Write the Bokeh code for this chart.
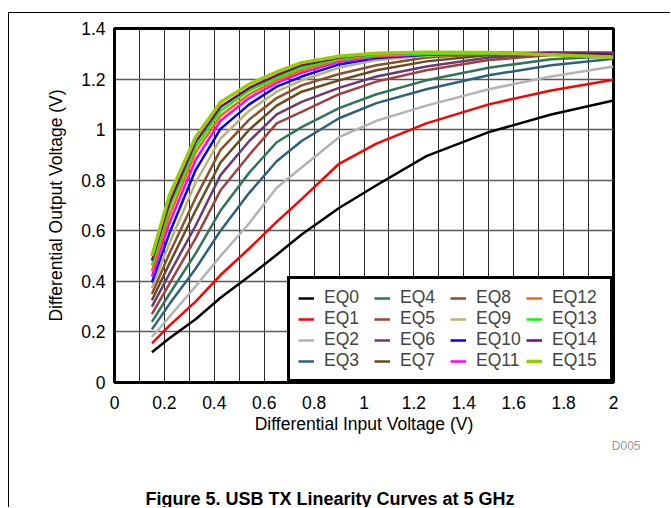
from bokeh.plotting import figure
from bokeh.models import (Range1d, FixedTicker, CustomJSTickFormatter,
                          Legend, LegendItem, Title)
from bokeh.embed import file_html
from bokeh.resources import INLINE

# ---- data ----
x_in = [0.15, 0.22, 0.325, 0.425, 0.54, 0.65, 0.75, 0.9, 1.05, 1.25, 1.5, 1.75, 2.0]

eq0 = [0.12, 0.175, 0.25, 0.335, 0.42, 0.505, 0.585, 0.69, 0.78, 0.895, 0.99, 1.06, 1.115]
eq1 = [0.155, 0.225, 0.32, 0.425, 0.53, 0.635, 0.725, 0.865, 0.945, 1.025, 1.10, 1.155, 1.197]
eq2 = [0.18, 0.26, 0.38, 0.50, 0.63, 0.77, 0.85, 0.97, 1.035, 1.095, 1.16, 1.21, 1.25]
eq3 = [0.21, 0.31, 0.45, 0.60, 0.75, 0.875, 0.955, 1.045, 1.105, 1.16, 1.215, 1.255, 1.28]
eq4 = [0.24, 0.35, 0.51, 0.68, 0.83, 0.95, 1.01, 1.085, 1.14, 1.195, 1.245, 1.278, 1.29]
eq5 = [0.27, 0.39, 0.57, 0.76, 0.90, 1.025, 1.07, 1.14, 1.19, 1.235, 1.275, 1.295, 1.30]
eq6 = [0.30, 0.43, 0.62, 0.82, 0.955, 1.06, 1.11, 1.165, 1.21, 1.25, 1.285, 1.30, 1.30]
eq7 = [0.325, 0.47, 0.68, 0.87, 1.00, 1.095, 1.15, 1.195, 1.235, 1.27, 1.295, 1.305, 1.305]
eq8 = [0.35, 0.51, 0.73, 0.92, 1.04, 1.125, 1.175, 1.22, 1.255, 1.285, 1.30, 1.305, 1.30]
eq9 = [0.374, 0.55, 0.79, 0.965, 1.075, 1.15, 1.195, 1.245, 1.275, 1.292, 1.30, 1.30, 1.30]
eq10 = [0.396, 0.59, 0.84, 1.003, 1.10, 1.17, 1.21, 1.258, 1.283, 1.296, 1.30, 1.30, 1.30]
eq11 = [0.419, 0.63, 0.88, 1.035, 1.125, 1.185, 1.225, 1.268, 1.288, 1.298, 1.30, 1.30, 1.30]
eq12 = [0.44, 0.66, 0.91, 1.055, 1.14, 1.195, 1.235, 1.275, 1.292, 1.30, 1.302, 1.30, 1.30]
eq13 = [0.462, 0.69, 0.93, 1.075, 1.155, 1.205, 1.245, 1.28, 1.295, 1.30, 1.302, 1.30, 1.30]
eq14 = [0.482, 0.71, 0.95, 1.09, 1.165, 1.215, 1.255, 1.285, 1.30, 1.305, 1.305, 1.302, 1.30]
eq15 = [0.50, 0.74, 0.97, 1.108, 1.18, 1.228, 1.265, 1.29, 1.302, 1.306, 1.305, 1.296, 1.286]

series = [eq0, eq1, eq2, eq3, eq4, eq5, eq6, eq7, eq8, eq9, eq10, eq11, eq12, eq13, eq14, eq15]
names = ["EQ0", "EQ1", "EQ2", "EQ3", "EQ4", "EQ5", "EQ6", "EQ7",
         "EQ8", "EQ9", "EQ10", "EQ11", "EQ12", "EQ13", "EQ14", "EQ15"]
colors = ["#000000", "#ff0000", "#b3b3b3", "#2f607e", "#317557", "#a0403f",
          "#6b3a75", "#6b4a22", "#8c4f27", "#b8b473", "#0000ff", "#ff00ff",
          "#ff6600", "#00ff00", "#800080", "#99cc00"]

x_ticks = [0, 0.2, 0.4, 0.6, 0.8, 1.0, 1.2, 1.4, 1.6, 1.8, 2.0]
x_minor = [0.1, 0.3, 0.5, 0.7, 0.9, 1.1, 1.3, 1.5, 1.7, 1.9]
y_ticks = [0, 0.2, 0.4, 0.6, 0.8, 1.0, 1.2, 1.4]

x_title = "Differential Input Voltage (V)"
y_title = "Differential Output Voltage (V)"
caption = "Figure 5. USB TX Linearity Curves at 5 GHz"
code_tag = "D005"

FONT = "Liberation Sans"
FS = "17.5px"
W, H = 662, 495

p = figure(width=W, height=H, output_backend="svg", toolbar_location=None,
           x_range=Range1d(0, 2), y_range=Range1d(0, 1.4),
           min_border_left=105, min_border_right=58, min_border_top=15,
           min_border_bottom=126)
p.styles = {"margin-left": "8px", "margin-top": "12px",
            "border-left": "1px solid black", "border-top": "1px solid black"}

p.outline_line_color = "black"
p.outline_line_width = 3
p.background_fill_color = "white"
p.border_fill_color = "white"

p.xaxis.ticker = FixedTicker(ticks=x_ticks, minor_ticks=x_minor)
p.yaxis.ticker = FixedTicker(ticks=y_ticks)
fmt = "var s = tick.toFixed(1); return s.endsWith('.0') ? s.slice(0, -2) : s;"
p.xaxis.formatter = CustomJSTickFormatter(code=fmt)
p.yaxis.formatter = CustomJSTickFormatter(code=fmt)

for ax in (p.xaxis, p.yaxis):
    ax.axis_line_color = "black"
    ax.axis_line_width = 3
    ax.major_tick_in = 0
    ax.major_tick_out = 0
    ax.minor_tick_in = 0
    ax.minor_tick_out = 0
    ax.major_label_text_font = FONT
    ax.major_label_text_font_size = FS
    ax.major_label_text_color = "black"
    ax.axis_label_text_font = FONT
    ax.axis_label_text_font_size = FS
    ax.axis_label_text_font_style = "normal"
    ax.axis_label_text_color = "black"

p.xaxis.axis_label = x_title
p.yaxis.axis_label = y_title
p.xaxis.major_label_standoff = 13
p.xaxis.axis_label_standoff = 2
p.yaxis.major_label_standoff = 9
p.yaxis.axis_label_standoff = 12

p.xgrid.grid_line_color = "#2a2a2a"
p.xgrid.grid_line_width = 1
p.xgrid.minor_grid_line_color = "#2a2a2a"
p.xgrid.minor_grid_line_width = 1
p.ygrid.grid_line_color = "#5a5a5a"
p.ygrid.grid_line_width = 1.5

items = []
for i, (ys, nm, c) in enumerate(zip(series, names, colors)):
    lw = 3.5 if i == 15 else 2.5
    r = p.line(x_in, ys, line_color=c, line_width=lw)
    items.append(LegendItem(label=nm, renderers=[r]))

legend = Legend(items=items, location="bottom_right", orientation="vertical", nrows=4,
                margin=0, padding=8, spacing=0,
                border_line_color="black", border_line_width=3, border_line_alpha=1,
                background_fill_color="white", background_fill_alpha=1,
                label_text_font=FONT, label_text_font_size=FS,
                glyph_width=16, glyph_height=20, label_height=20,
                label_standoff=10, label_width=50)
p.add_layout(legend, "center")

# text below the x axis: code tag, invisible spacer, figure caption
p.add_layout(Title(text=code_tag, align="right", offset=-27, standoff=0,
                   text_font=FONT, text_font_size="12px", text_font_style="normal",
                   text_color="#999999"), "below")
p.add_layout(Title(text=".", align="left", standoff=35, text_color="white",
                   text_font=FONT, text_font_size="11px"), "below")
p.add_layout(Title(text=caption, align="left", offset=31, standoff=-18,
                   vertical_align="top",
                   text_font=FONT, text_font_size="18px", text_font_style="bold",
                   text_color="black"), "below")

open("out.html", "w").write(file_html(p, INLINE))
